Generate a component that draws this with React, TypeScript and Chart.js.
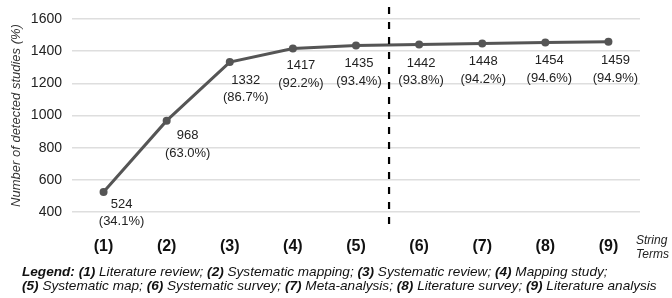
import React, { useEffect, useRef } from "react";
import { Chart, registerables } from "chart.js";

Chart.register(...registerables);

const categories = ["(1)", "(2)", "(3)", "(4)", "(5)", "(6)", "(7)", "(8)", "(9)"];
const detectedStudies = [524, 968, 1332, 1417, 1435, 1442, 1448, 1454, 1459];
const percentLabels = ["34.1%", "63.0%", "86.7%", "92.2%", "93.4%", "93.8%", "94.2%", "94.6%", "94.9%"];
const yTicks = [400, 600, 800, 1000, 1200, 1400, 1600];
const labelDx = [18, 21, 16, 8, 3, 2, 1, 4, 7];
const labelDy = [12, 15, 18, 17, 18, 19, 18, 18, 19];
const FONT = "'Liberation Sans', Arial, sans-serif";

const pointLabelsPlugin = {
  id: "pointLabels",
  afterDatasetsDraw(chart: any) {
    const ctx = chart.ctx;
    const meta = chart.getDatasetMeta(0);
    ctx.save();
    ctx.fillStyle = "#222";
    ctx.font = `13px ${FONT}`;
    ctx.textAlign = "center";
    ctx.textBaseline = "middle";
    meta.data.forEach((pt: any, i: number) => {
      const x = pt.x + labelDx[i];
      const y = pt.y + labelDy[i];
      ctx.fillText(String(detectedStudies[i]), x, y);
      ctx.fillText(`(${percentLabels[i]})`, x, y + 17.5);
    });
    ctx.restore();
  },
};

const dividerPlugin = {
  id: "divider",
  afterDraw(chart: any) {
    const xs = chart.scales.x;
    const ys = chart.scales.y;
    const x = (xs.getPixelForValue(4) + xs.getPixelForValue(5)) / 2 + 1.5;
    const ctx = chart.ctx;
    ctx.save();
    ctx.strokeStyle = "#000";
    ctx.lineWidth = 2.2;
    ctx.setLineDash([7, 8]);
    ctx.beginPath();
    ctx.moveTo(x, ys.top - 12);
    ctx.lineTo(x, ys.bottom + 12);
    ctx.stroke();
    ctx.restore();
  },
};

export default function App() {
  const ref = useRef<HTMLCanvasElement | null>(null);
  useEffect(() => {
    if (!ref.current) return;
    const chart = new Chart(ref.current, {
      type: "line",
      data: {
        labels: categories,
        datasets: [
          {
            data: detectedStudies,
            borderColor: "#555",
            backgroundColor: "#555",
            borderWidth: 3,
            pointRadius: 4,
            pointBackgroundColor: "#555",
            pointBorderWidth: 0,
            tension: 0,
          },
        ],
      },
      options: {
        responsive: false,
        animation: false,
        layout: { padding: { top: 19, right: 32, left: 0, bottom: 0 } },
        plugins: { legend: { display: false }, tooltip: { enabled: false } },
        scales: {
          x: {
            offset: true,
            grid: { display: false, drawTicks: false },
            border: { display: false },
            ticks: { color: "#111", font: { family: FONT, size: 16, weight: "bold" }, padding: 25 },
            afterFit(scale: any) {
              scale.height = 86;
            },
          },
          y: {
            min: 400,
            max: 1600,
            afterBuildTicks(scale: any) {
              scale.ticks = yTicks.map((v) => ({ value: v }));
            },
            grid: { color: "#dedede", lineWidth: 1.5, drawTicks: false },
            border: { display: false },
            ticks: {
              color: "#222",
              font: { family: FONT, size: 14 },
              padding: 10,
              callback: (v: any) => String(v),
            },
            title: {
              display: true,
              text: "Number of detected studies (%)",
              color: "#333",
              font: { family: FONT, size: 13, style: "italic" },
              padding: { top: 9, bottom: 0 },
            },
            afterFit(scale: any) {
              scale.width = 72;
            },
          },
        },
      },
      plugins: [pointLabelsPlugin, dividerPlugin],
    });
    return () => chart.destroy();
  }, []);

  const legendStyle: React.CSSProperties = {
    position: "absolute",
    left: 22,
    top: 265,
    fontFamily: FONT,
    fontSize: 13.6,
    fontStyle: "italic",
    lineHeight: "14px",
    color: "#111",
    whiteSpace: "nowrap",
  };

  return (
    <div style={{ position: "fixed", left: 0, top: 0, width: 672, height: 298, background: "#fff" }}>
      <canvas ref={ref} width={672} height={298} style={{ position: "absolute", left: 0, top: 0 }} />
      <div
        style={{
          position: "absolute",
          left: 636,
          top: 233,
          fontFamily: FONT,
          fontSize: 12,
          fontStyle: "italic",
          lineHeight: "14px",
          color: "#222",
        }}
      >
        String
        <br />
        Terms
      </div>
      <div style={legendStyle}>
        <div>
          <b>Legend:</b> <b>(1)</b> Literature review; <b>(2)</b> Systematic mapping; <b>(3)</b> Systematic review;{" "}
          <b>(4)</b> Mapping study;
        </div>
        <div>
          <b>(5)</b> Systematic map; <b>(6)</b> Systematic survey; <b>(7)</b> Meta-analysis; <b>(8)</b> Literature survey;{" "}
          <b>(9)</b> Literature analysis
        </div>
      </div>
    </div>
  );
}
